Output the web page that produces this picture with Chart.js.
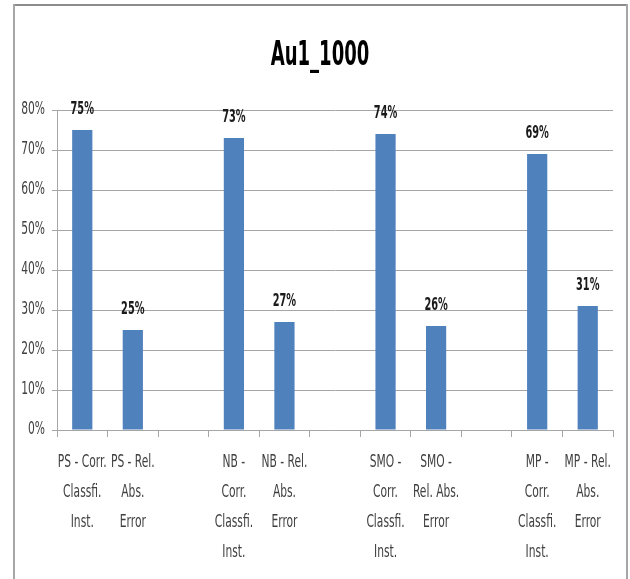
<!DOCTYPE html>
<html>
<head>
<meta charset="utf-8">
<script src="https://cdn.jsdelivr.net/npm/chart.js@4.4.1/dist/chart.umd.min.js"></script>
<style>
    html, body { margin: 0; padding: 0; background: #fff; }
    #wrap { position: relative; width: 630px; height: 579px; }
</style>
</head>
<body>
<div id="wrap"><canvas id="chart" width="630" height="579"></canvas></div>
<script>
const FONT = "'DejaVu Sans Condensed', 'Liberation Sans Narrow', sans-serif";

const title = 'Au1_1000';
const categories = [
    ['PS - Corr.', 'Classfi.', 'Inst.'],
    ['PS - Rel.', 'Abs.', 'Error'],
    '',
    ['NB -', 'Corr.', 'Classfi.', 'Inst.'],
    ['NB - Rel.', 'Abs.', 'Error'],
    '',
    ['SMO -', 'Corr.', 'Classfi.', 'Inst.'],
    ['SMO -', 'Rel. Abs.', 'Error'],
    '',
    ['MP -', 'Corr.', 'Classfi.', 'Inst.'],
    ['MP - Rel.', 'Abs.', 'Error']
];
// percentages; null for the spacer columns between classifiers
const values = [75, 25, null, 73, 27, null, 74, 26, null, 69, 31];
const yTicks = [0, 10, 20, 30, 40, 50, 60, 70, 80];

// no narrow face installed, so text is drawn with a horizontal squeeze
function squeezed(ctx, text, x, y, sx) {
    ctx.save();
    ctx.translate(x, y);
    ctx.scale(sx, 1);
    ctx.fillText(text, 0, 0);
    ctx.restore();
}

// outer frame like the spreadsheet chart box
const framePlugin = {
    id: 'frame',
    beforeDraw(chart) {
        const ctx = chart.ctx;
        ctx.save();
        ctx.fillStyle = '#ffffff';
        ctx.fillRect(0, 0, chart.width, chart.height);
        ctx.lineWidth = 2;
        ctx.strokeStyle = '#8c8c8c';
        ctx.beginPath();
        ctx.moveTo(13, 5);
        ctx.lineTo(627, 5);
        ctx.stroke();
        ctx.strokeStyle = '#a6a6a6';
        ctx.beginPath();
        ctx.moveTo(14, 4);
        ctx.lineTo(14, chart.height);
        ctx.moveTo(627, 4);
        ctx.lineTo(627, chart.height);
        ctx.stroke();
        ctx.restore();
    }
};

// the native tick labels are transparent (they still size the axes);
// the visible ones, the title and the value labels are drawn here
const narrowText = {
    id: 'narrowText',
    afterDraw(chart) {
        const ctx = chart.ctx;
        const xs = chart.scales.x;
        const ys = chart.scales.y;
        ctx.save();

        ctx.fillStyle = '#000';
        ctx.font = 'bold 34px ' + FONT;
        ctx.textAlign = 'center';
        ctx.textBaseline = 'alphabetic';
        squeezed(ctx, title, 320, 65, 0.59);

        ctx.fillStyle = '#404040';
        ctx.font = '17px ' + FONT;
        ctx.textAlign = 'right';
        ctx.textBaseline = 'middle';
        ys.ticks.forEach((t, i) => {
            squeezed(ctx, t.label, ys.right - 12, ys.getPixelForTick(i), 0.7);
        });

        ctx.textAlign = 'center';
        categories.forEach((lines, i) => {
            const x = xs.getPixelForTick(i);
            [].concat(lines).forEach((line, j) => {
                squeezed(ctx, line, x, xs.top + 33 + j * 30, 0.7);
            });
        });

        const meta = chart.getDatasetMeta(0);
        ctx.fillStyle = '#1a1a1a';
        ctx.font = 'bold 17px ' + FONT;
        ctx.textBaseline = 'alphabetic';
        meta.data.forEach((bar, i) => {
            if (values[i] === null) return;
            squeezed(ctx, values[i] + '%', bar.x, bar.y - 16, 0.64);
        });
        ctx.restore();
    }
};

new Chart(document.getElementById('chart'), {
    type: 'bar',
    data: {
        labels: categories,
        datasets: [{
            data: values,
            backgroundColor: '#4f81bd',
            borderWidth: 0,
            categoryPercentage: 1,
            barPercentage: 0.4
        }]
    },
    options: {
        responsive: false,
        animation: false,
        layout: { padding: { left: 0, right: 17, top: 110, bottom: 0 } },
        plugins: {
            legend: { display: false },
            tooltip: { enabled: false },
            title: { display: false }
        },
        scales: {
            x: {
                grid: {
                    display: true,
                    offset: true,
                    drawOnChartArea: false,
                    drawTicks: true,
                    tickLength: 7,
                    color: '#a6a6a6'
                },
                border: { color: '#a6a6a6' },
                ticks: {
                    autoSkip: false,
                    maxRotation: 0,
                    padding: 11,
                    color: 'rgba(0,0,0,0)',
                    font: { family: FONT, size: 13, lineHeight: '30px' }
                }
            },
            y: {
                min: 0,
                max: 80,
                afterFit(scale) { scale.width = 57; },
                afterBuildTicks(scale) { scale.ticks = yTicks.map(v => ({ value: v })); },
                grid: { color: '#a6a6a6', tickLength: 5 },
                border: { color: '#a6a6a6' },
                ticks: {
                    padding: 7,
                    color: 'rgba(0,0,0,0)',
                    font: { family: FONT, size: 14 },
                    callback: v => v + '%'
                }
            }
        }
    },
    plugins: [framePlugin, narrowText]
});
</script>
</body>
</html>
